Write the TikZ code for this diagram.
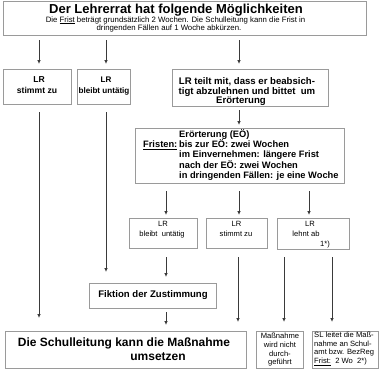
\documentclass[tikz,border=0pt]{standalone}
\usepackage{fontspec}
\setmainfont{Liberation Sans}
\usetikzlibrary{arrows.meta}
\definecolor{boxgray}{HTML}{9A9A9A}
\definecolor{arrgray}{HTML}{3A3A3A}
\begin{document}
\begin{tikzpicture}[x=1pt,y=-1pt,
  box/.style={draw=boxgray,line width=0.8pt,inner sep=0pt,fill=white},
  arr/.style={draw=arrgray,line width=0.7pt,-{Triangle[length=3.5pt,width=3pt]}},
  tx/.style={inner sep=0pt,anchor=base},
  txl/.style={inner sep=0pt,anchor=base west},
  txr/.style={inner sep=0pt,anchor=base east},
  fTitle/.style={font=\fontsize{13}{14}\selectfont\bfseries},
  fSub/.style={font=\fontsize{7.8}{8.5}\selectfont},
  fA/.style={font=\fontsize{8.6}{10}\selectfont\bfseries},
  fA2/.style={font=\fontsize{8.1}{10}\selectfont\bfseries},
  fB/.style={font=\fontsize{9.6}{10}\selectfont\bfseries},
  fE/.style={font=\fontsize{9.3}{10}\selectfont\bfseries},
  fS/.style={font=\fontsize{7.6}{8.5}\selectfont},
  fBig/.style={font=\fontsize{12}{14}\selectfont\bfseries}]
\useasboundingbox[fill=white] (0,0) rectangle (380,380);

% boxes
\node[box,minimum width=363pt,minimum height=34pt] (top) at (184.5,18) {};
\node[box,minimum width=68pt,minimum height=35pt] (a1) at (37,86.5) {};
\node[box,minimum width=53pt,minimum height=35pt] (a2) at (103.5,86.5) {};
\node[box,minimum width=156pt,minimum height=37pt] (a3) at (250,87.5) {};
\node[box,minimum width=209pt,minimum height=55pt] (eo) at (239.5,155.5) {};
\node[box,minimum width=68pt,minimum height=30pt] (b1) at (163,233) {};
\node[box,minimum width=61pt,minimum height=30pt] (b2) at (236.5,233) {};
\node[box,minimum width=72pt,minimum height=31pt] (b3) at (313,233.5) {};
\node[box,minimum width=127pt,minimum height=25pt] (fik) at (152.5,295.5) {};
\node[box,minimum width=241pt,minimum height=37pt] (big) at (125.5,349.5) {};
\node[box,minimum width=47pt,minimum height=37pt] (mn) at (279.5,349.5) {};
\node[box,minimum width=66pt,minimum height=37pt] (sl) at (345,349.5) {};

% texts
\node[tx,fTitle] (t1) at (176,13) {Der Lehrerrat hat folgende Möglichkeiten};
\node[tx,fSub] (t2) at (175.5,22.2) {Die \underline{Frist} beträgt grundsätzlich 2 Wochen. Die Schulleitung kann die Frist in};
\node[tx,fSub] (t3) at (169,30.8) {dringenden Fällen auf 1 Woche abkürzen.};

\node[tx,fA] (a1l1) at (39,82) {LR};
\node[tx,fA] (a1l2) at (37,93.8) {stimmt zu};
\node[tx,fA2] (a2l1) at (106,82) {LR};
\node[tx,fA2] (a2l2) at (104,93.8) {bleibt untätig};

\node[tx,fB] (a3l1) at (247,84.5) {LR teilt mit, dass er beabsich-};
\node[tx,fB] (a3l2) at (247,94) {tigt abzulehnen und bittet\ \ um};
\node[tx,fB] (a3l3) at (241,103) {Erörterung};

\node[txl,fE] (e1) at (179,137) {Erörterung (EÖ)};
\node[txr,fE] (e0) at (177.5,147.3) {\underline{Fristen:}};
\node[txl,fE] (e2) at (179,147.3) {bis zur EÖ: zwei Wochen};
\node[txl,fE] (e3) at (179,157.7) {im Einvernehmen: längere Frist};
\node[txl,fE] (e4) at (179,168) {nach der EÖ: zwei Wochen};
\node[txl,fE] (e5) at (179,178.5) {in dringenden Fällen: je eine Woche};

\node[tx,fS] (b1l1) at (163,226) {LR};
\node[tx,fS] (b1l2) at (162,236.5) {bleibt\ \ untätig};
\node[tx,fS] (b2l1) at (236.5,226) {LR};
\node[tx,fS] (b2l2) at (236,236.5) {stimmt zu};
\node[tx,fS] (b3l1) at (310,226) {LR};
\node[tx,fS] (b3l2) at (306,236.5) {lehnt ab};
\node[tx,fS] (b3l3) at (325,246) {1*)};

\node[tx,fB] (fikt) at (153,297) {Fiktion der Zustimmung};

\node[tx,fBig] (bg1) at (124,346.7) {Die Schulleitung kann die Maßnahme};
\node[tx,fBig] (bg2) at (158,360) {umsetzen};

\node[tx,fS] (m1) at (280,338.3) {Maßnahme};
\node[tx,fS] (m2) at (280,347.5) {wird nicht};
\node[tx,fS] (m3) at (280,356.5) {durch-};
\node[tx,fS] (m4) at (280,364.8) {geführt};

\node[txl,fS] (s1) at (314,337.3) {SL leitet die Maß-};
\node[txl,fS] (s2) at (314,346) {nahme an Schul-};
\node[txl,fS] (s3) at (314,354.8) {amt bzw. BezReg};
\node[txl,fS] (s4) at (314,363.5) {\underline{Frist:}\ \ 2 Wo\ \ 2*)};

% column coordinates
\coordinate (c39) at (39,0);
\coordinate (c106) at (106,0);
\coordinate (c239) at (239,0);
\coordinate (c166) at (166,0);
\coordinate (c309) at (309,0);
\coordinate (c238) at (238,0);
\coordinate (c284) at (284,0);
\coordinate (c332) at (332,0);

% arrows
\draw[arr,shorten <=5pt,shorten >=5pt] (top.south -| c39) -- (a1.north -| c39);
\draw[arr,shorten <=5pt,shorten >=5pt] (top.south -| c106) -- (a2.north -| c106);
\draw[arr,shorten <=5pt,shorten >=5pt] (top.south -| c239) -- (a3.north -| c239);
\draw[arr,shorten <=8pt,shorten >=13pt] (a1.south -| c39) -- (big.north -| c39);
\draw[arr,shorten <=8pt,shorten >=11pt] (a2.south -| c106) -- (fik.north -| c106);
\draw[arr,shorten <=4pt,shorten >=3pt] (a3.south -| c239) -- (eo.north -| c239);
\draw[arr,shorten <=8pt,shorten >=3pt] (eo.south -| c166) -- (b1.north -| c166);
\draw[arr,shorten <=8pt,shorten >=3pt] (eo.south -| c239) -- (b2.north -| c239);
\draw[arr,shorten <=8pt,shorten >=3pt] (eo.south -| c309) -- (b3.north -| c309);
\draw[arr,shorten <=9pt,shorten >=6pt] (b1.south -| c166) -- (fik.north -| c166);
\draw[arr,shorten <=9pt,shorten >=9pt] (b2.south -| c238) -- (big.north -| c238);
\draw[arr,shorten <=8pt,shorten >=9pt] (b3.south -| c284) -- (mn.north -| c284);
\draw[arr,shorten <=8pt,shorten >=9pt] (b3.south -| c332) -- (sl.north -| c332);
\draw[arr,shorten <=4pt,shorten >=6pt] (fik.south -| c166) -- (big.north -| c166);
\end{tikzpicture}
\end{document}
